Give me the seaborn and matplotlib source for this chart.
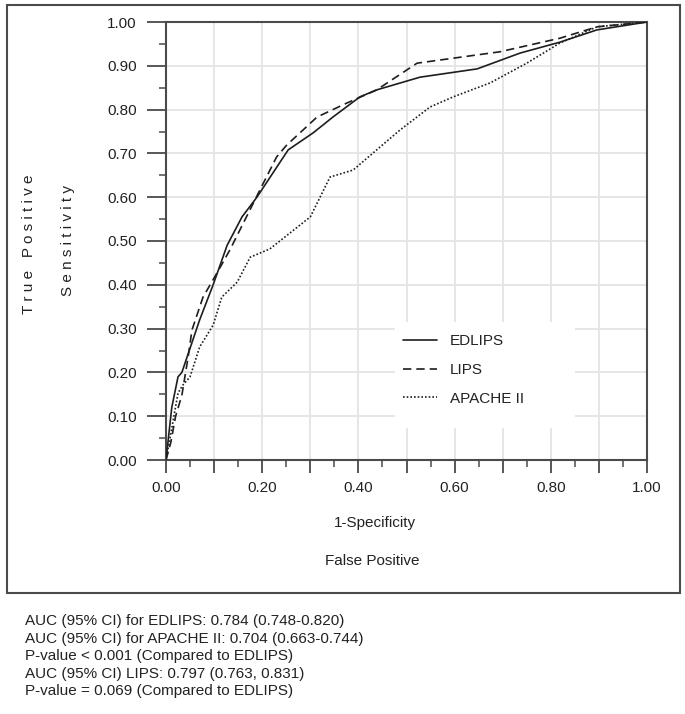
import numpy as np
import pandas as pd
import matplotlib
matplotlib.use("Agg")
import matplotlib.pyplot as plt
import seaborn as sns
from matplotlib.patches import Rectangle
from matplotlib.ticker import MultipleLocator, FixedLocator, FixedFormatter

# ---- data ----
edlips_fpr = [0, 0.012, 0.025, 0.033, 0.07, 0.098, 0.127, 0.158, 0.189, 0.254, 0.306, 0.347, 0.403, 0.438, 0.528, 0.647, 0.736, 0.819, 0.896, 1.0]
edlips_tpr = [0, 0.12, 0.19, 0.20, 0.32, 0.40, 0.49, 0.555, 0.60, 0.708, 0.747, 0.783, 0.829, 0.845, 0.874, 0.893, 0.929, 0.954, 0.982, 1.0]

lips_fpr = [0, 0.01, 0.02, 0.033, 0.046, 0.054, 0.077, 0.106, 0.133, 0.195, 0.23, 0.251, 0.314, 0.376, 0.438, 0.522, 0.694, 0.819, 0.896, 1.0]
lips_tpr = [0, 0.04, 0.10, 0.148, 0.235, 0.297, 0.372, 0.427, 0.48, 0.616, 0.692, 0.719, 0.783, 0.815, 0.845, 0.906, 0.932, 0.963, 0.989, 1.0]

apache_fpr = [0, 0.01, 0.025, 0.035, 0.05, 0.07, 0.098, 0.116, 0.148, 0.175, 0.216, 0.30, 0.341, 0.389, 0.438, 0.486, 0.549, 0.597, 0.674, 0.75, 0.819, 0.896, 1.0]
apache_tpr = [0, 0.06, 0.153, 0.171, 0.19, 0.258, 0.308, 0.372, 0.406, 0.463, 0.482, 0.555, 0.646, 0.662, 0.708, 0.753, 0.806, 0.829, 0.861, 0.906, 0.952, 0.989, 1.0]

models = ["EDLIPS", "LIPS", "APACHE II"]
x_ticks = [0.0, 0.1, 0.2, 0.3, 0.4, 0.5, 0.6, 0.7, 0.8, 0.9, 1.0]
x_labels = ["0.00", "", "0.20", "", "0.40", "", "0.60", "", "0.80", "", "1.00"]
y_ticks = [0.0, 0.1, 0.2, 0.3, 0.4, 0.5, 0.6, 0.7, 0.8, 0.9, 1.0]
y_labels = ["0.00", "0.10", "0.20", "0.30", "0.40", "0.50", "0.60", "0.70", "0.80", "0.90", "1.00"]
notes = [
    "AUC (95% CI) for EDLIPS: 0.784 (0.748-0.820)",
    "AUC (95% CI) for APACHE II: 0.704 (0.663-0.744)",
    "P-value < 0.001 (Compared to EDLIPS)",
    "AUC (95% CI) LIPS: 0.797 (0.763, 0.831)",
    "P-value = 0.069 (Compared to EDLIPS)",
]

df = pd.concat([
    pd.DataFrame({"fpr": edlips_fpr, "tpr": edlips_tpr, "model": models[0]}),
    pd.DataFrame({"fpr": lips_fpr, "tpr": lips_tpr, "model": models[1]}),
    pd.DataFrame({"fpr": apache_fpr, "tpr": apache_tpr, "model": models[2]}),
], ignore_index=True)

sns.set_theme(style="white")
plt.rcParams["font.family"] = ["Liberation Sans", "DejaVu Sans"]

W, H = 685, 714
fig = plt.figure(figsize=(W / 100, H / 100), dpi=100)
ax = fig.add_axes([166 / W, 1 - 460 / H, (647 - 166) / W, (460 - 22) / H])

txt_color = "#222222"
spine_color = "#4a4a4a"

# grid
for v in x_ticks:
    ax.axvline(v, color="#e4e4e4", lw=1.3, zorder=0)
for v in y_ticks:
    ax.axhline(v, color="#e4e4e4", lw=1.3, zorder=0)

# white box behind legend
ax.add_patch(Rectangle(((395 - 166) / 481, (460 - 428) / 438), 180 / 481, 106 / 438,
                       transform=ax.transAxes, facecolor="white", edgecolor="none", zorder=0.5))

sns.lineplot(data=df, x="fpr", y="tpr", hue="model", style="model",
             palette={m: "#1e1e1e" for m in models},
             dashes={"EDLIPS": "", "LIPS": (5, 3), "APACHE II": (1, 1.2)},
             estimator=None, sort=False, lw=1.2, ax=ax, zorder=3, legend=True)

ax.set_xlim(0, 1)
ax.set_ylim(0, 1)
ax.set_xlabel("")
ax.set_ylabel("")

ax.xaxis.set_major_locator(FixedLocator(x_ticks))
ax.xaxis.set_major_formatter(FixedFormatter(x_labels))
ax.yaxis.set_major_locator(FixedLocator(y_ticks))
ax.yaxis.set_major_formatter(FixedFormatter(y_labels))
ax.xaxis.set_minor_locator(MultipleLocator(0.05))
ax.yaxis.set_minor_locator(MultipleLocator(0.05))
ax.tick_params(axis="both", which="major", direction="out", length=9, width=1.3,
               color=spine_color, labelsize=11, labelcolor=txt_color, pad=6,
               bottom=True, left=True)
ax.tick_params(axis="both", which="minor", direction="out", length=5, width=1.1,
               color=spine_color, bottom=True, left=True)
ax.tick_params(axis="y", which="major", length=14, pad=7)

for s in ax.spines.values():
    s.set_visible(True)
    s.set_color(spine_color)
    s.set_linewidth(1.5)

leg = ax.legend(loc="center left", bbox_to_anchor=((403 - 166) / 481, (460 - 370) / 438),
                frameon=False, fontsize=11, handlelength=2.2, handletextpad=0.85,
                labelspacing=0.95, borderpad=0, borderaxespad=0)
for t in leg.get_texts():
    t.set_color(txt_color)

# axis titles
fig.text(29 / W, 1 - 244 / H, " ".join("True Positive"), rotation=90, ha="center", va="center",
         fontsize=11, color=txt_color)
fig.text(68 / W, 1 - 240 / H, " ".join("Sensitivity"), rotation=90, ha="center", va="center",
         fontsize=11, color=txt_color)
fig.text(375 / W, 1 - 523 / H, "1-Specificity", ha="center", va="center", fontsize=11, color=txt_color)
fig.text(372 / W, 1 - 561 / H, "False Positive", ha="center", va="center", fontsize=11, color=txt_color)

# outer frame
fig.patches.append(Rectangle((7 / W, 1 - 593 / H), (680 - 7) / W, (593 - 5) / H,
                             transform=fig.transFigure, fill=False, edgecolor="#4a4a4a", lw=1.5))

# notes below
y0 = 621
for i, line in enumerate(notes):
    fig.text(25 / W, 1 - (y0 + i * 17.6) / H, line, ha="left", va="center", fontsize=11, color=txt_color)

fig.savefig("out.png", dpi=100)
